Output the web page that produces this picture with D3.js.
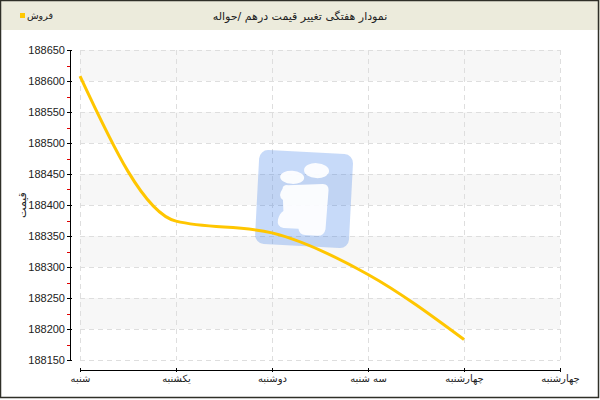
<!DOCTYPE html>
<html><head><meta charset="utf-8">
<script src="https://cdn.jsdelivr.net/npm/d3@7"></script>
<style>body{margin:0;background:#fff}svg{display:block}</style>
</head><body>
<script>
const titleText = "نمودار هفتگی تغییر قیمت درهم /حواله";
const seriesName = "فروش";
const yTitle = "قیمت";
const categories = ["شنبه","یکشنبه","دوشنبه","سه شنبه","چهارشنبه","چهارشنبه"];
const values = [188608, 188374, 188355, 188288, 188183, null];
const yTicks = [188150,188200,188250,188300,188350,188400,188450,188500,188550,188600,188650];

const W = 600, H = 400;
const svg = d3.select("body").append("svg").attr("width", W).attr("height", H);
const persianFont = "DejaVu Sans, sans-serif";
const numFont = "Liberation Sans, Arial, sans-serif";

// frame and header
svg.append("rect").attr("x",0).attr("y",0).attr("width",W).attr("height",30).attr("fill","#ecebdc");
svg.append("rect").attr("x",0.5).attr("y",0.5).attr("width",598).attr("height",397)
  .attr("fill","none").attr("stroke","#2f2f28").attr("stroke-width",1.5);

svg.append("text").attr("x",300).attr("y",20).attr("text-anchor","middle")
  .attr("font-family",persianFont).attr("font-size",11).attr("fill","#222").text(titleText);

// legend
svg.append("rect").attr("x",20).attr("y",13).attr("width",5).attr("height",5).attr("fill","#ffc800");
svg.append("text").attr("x",27).attr("y",19).attr("text-anchor","start")
  .attr("font-family",persianFont).attr("font-size",9.5).attr("fill","#222").text(seriesName);

const idx = categories.map((d,i)=>i);
const x = d3.scalePoint().domain(idx).range([80,560]);
const y = d3.scaleLinear().domain([188150,188650]).range([360,50]);

const plot = svg.append("g");
// bands
for (let i = 0; i < yTicks.length-1; i++) {
  const top = yTicks[yTicks.length-1-i], bot = yTicks[yTicks.length-2-i];
  plot.append("rect").attr("x",80).attr("y",y(top)).attr("width",480).attr("height",y(bot)-y(top))
    .attr("fill", i%2===0 ? "#f7f7f7" : "#ffffff");
}
// grid
plot.selectAll(".hg").data(yTicks).join("line")
  .attr("x1",80).attr("x2",560).attr("y1",d=>Math.round(y(d))+0.5).attr("y2",d=>Math.round(y(d))+0.5)
  .attr("stroke","#dedede").attr("stroke-dasharray","5,4");
plot.selectAll(".vg").data(idx).join("line")
  .attr("x1",d=>x(d)+0.5).attr("x2",d=>x(d)+0.5).attr("y1",50).attr("y2",360)
  .attr("stroke","#dedede").attr("stroke-dasharray","5,4");

// watermark
const wm = svg.append("g").attr("transform","translate(304,200) rotate(3)");
wm.append("rect").attr("x",-47).attr("y",-48).attr("width",94).attr("height",94).attr("rx",9)
  .attr("fill","#1e6be6").attr("opacity",0.25);
wm.append("ellipse").attr("cx",-13).attr("cy",-22).attr("rx",12).attr("ry",6.5).attr("fill","#fff").attr("opacity",0.92);
wm.append("ellipse").attr("cx",11).attr("cy",-30).attr("rx",12.5).attr("ry",7.5).attr("fill","#fff").attr("opacity",0.92);
wm.append("path").attr("d","M-22,-10 Q-22,-14 -17,-14 L18,-17 Q24,-17 24,-11 L23,28 Q22,35 15,35 L3,35 Q-3,35 -4,29 L-19,29 Q-26,28 -25,21 Q-24,15 -20,12 L-21,1 Q-27,-2 -22,-10 Z")
  .attr("fill","#fff").attr("opacity",0.92);

// line
const line = d3.line().defined(d=>d.v!=null).x(d=>x(d.i)).y(d=>y(d.v)).curve(d3.curveMonotoneX);
svg.append("path").datum(idx.map(i=>({i, v: values[i]})))
  .attr("d",line).attr("fill","none").attr("stroke","#ffc600").attr("stroke-width",3)
  .attr("stroke-linejoin","round");

// y axis
const yAxis = svg.append("g").attr("transform","translate(70,0)")
  .call(d3.axisLeft(y).tickValues(yTicks).tickFormat(d3.format("d")).tickSizeInner(3).tickSizeOuter(0));
yAxis.select(".domain").attr("stroke","#000");
yAxis.selectAll(".tick line").attr("x2",-3).attr("x1",2).attr("stroke","#000");
yAxis.selectAll("text").attr("font-family",numFont).attr("font-size",11).attr("fill","#222").attr("x",-5);
// minor red ticks
const minors = yTicks.slice(0,-1).map(d=>d+25);
svg.selectAll(".mt").data(minors).join("line")
  .attr("x1",67).attr("x2",70).attr("y1",d=>Math.round(y(d))+0.5).attr("y2",d=>Math.round(y(d))+0.5)
  .attr("stroke","#e00000");

// x axis
const xAxis = svg.append("g").attr("transform","translate(0,370)")
  .call(d3.axisBottom(x).tickFormat(i=>categories[i]).tickSizeInner(2).tickSizeOuter(0));
xAxis.select(".domain").attr("stroke","#000");
xAxis.selectAll(".tick line").attr("y1",-2).attr("y2",2).attr("stroke","#000");
xAxis.selectAll("text").attr("font-family",persianFont).attr("font-size",10).attr("fill","#222").attr("y",5);

// y title
svg.append("text").attr("transform","translate(26,205) rotate(-90)").attr("text-anchor","middle")
  .attr("font-family",persianFont).attr("font-size",11).attr("fill","#222").text(yTitle);
</script>
</body></html>
